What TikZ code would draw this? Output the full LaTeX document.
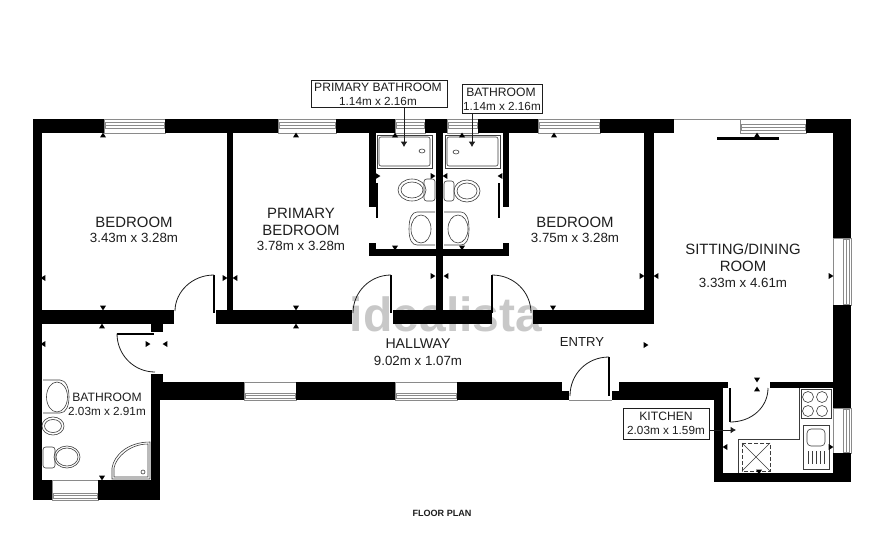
\documentclass[tikz,border=0pt]{standalone}
\usepackage{fontspec}
\setmainfont{Liberation Sans}
\usetikzlibrary{arrows.meta}
\definecolor{ink}{HTML}{1E1E1E}
\definecolor{fixink}{HTML}{3C3C3C}
\definecolor{wingray}{HTML}{8A8A8A}
\definecolor{wmgray}{HTML}{C8C8C8}
\newcommand\tu[2]{\fill (#1-3,#2+2.4)--(#1+3,#2+2.4)--(#1,#2-2.4)--cycle;}
\newcommand\td[2]{\fill (#1-3,#2-2.4)--(#1+3,#2-2.4)--(#1,#2+2.4)--cycle;}
\newcommand\tl[2]{\fill (#1+2.4,#2-3)--(#1+2.4,#2+3)--(#1-2.4,#2)--cycle;}
\newcommand\tr[2]{\fill (#1-2.4,#2-3)--(#1-2.4,#2+3)--(#1+2.4,#2)--cycle;}
% horizontal window: x1 x2 y1 y2 band-top band-bottom
\newcommand\hwin[6]{\draw[winline] (#1,#3) rectangle (#2,#4);
  \draw[winband] (#1+1,#5) rectangle (#2-1,#6);
  \draw[winband] (#1+1,#5/2+#6/2) -- (#2-1,#5/2+#6/2);}
\newcommand\vwin[6]{\draw[winline] (#3,#1) rectangle (#4,#2);
  \draw[winband] (#5,#1+1) rectangle (#6,#2-1);
  \draw[winband] (#5/2+#6/2,#1+1) -- (#5/2+#6/2,#2-1);}
\tikzset{
  wall/.style={fill=black,draw=none},
  winline/.style={draw=wingray,line width=.5pt},
  winband/.style={draw=wingray,line width=.6pt},
  fix/.style={draw=fixink,line width=.45pt},
  leaf/.style={draw=black,line width=1.5pt},
  swing/.style={draw=ink,line width=.6pt},
  room/.style={text=ink,font=\fontsize{11.2pt}{13pt}\selectfont,inner sep=0pt},
  dim/.style={text=ink,font=\fontsize{10pt}{12pt}\selectfont,inner sep=0pt},
  sroom/.style={text=ink,font=\fontsize{9.1pt}{11pt}\selectfont,inner sep=0pt},
  sdim/.style={text=ink,font=\fontsize{8.8pt}{11pt}\selectfont,inner sep=0pt},
  labelbox/.style={draw=ink,line width=.6pt,fill=white,inner sep=0pt},
  pointer/.style={draw=ink,line width=.6pt,-{Latex[length=4pt,width=5pt]}},
}
\begin{document}
\begin{tikzpicture}[x=.75pt,y=-.75pt]
\useasboundingbox (0,0) rectangle (884,550);
\fill[white] (0,0) rectangle (884,550);
% watermark, behind the walls
\node[text=wmgray,inner sep=0pt,anchor=base] (wm) at (446,331) {\bfseries\fontsize{36pt}{40pt}\selectfont idealista};
% windows
\hwin{104}{165}{119}{133}{122}{128}
\hwin{278}{336}{119}{133}{122}{128}
\hwin{395}{425}{119}{133}{122}{128}
\hwin{447}{478}{119}{133}{122}{128}
\hwin{538}{600}{119}{133}{122}{128}
\hwin{740}{806}{119}{133}{124}{130}
\hwin{244}{296}{382}{400}{393}{398}
\hwin{395}{457}{382}{400}{393}{398}
\hwin{52}{98}{480}{500}{493}{498}
\vwin{238}{305}{833}{851}{843}{849}
\vwin{408}{453}{833}{851}{843}{849}
% thin outline across the sliding door opening and entry door
\draw[winline] (674,119) -- (740,119);
\draw[winline] (569,400) -- (612,400);
% walls
\fill[wall] (33,119) rectangle (104,133);
\fill[wall] (165,119) rectangle (278,133);
\fill[wall] (336,119) rectangle (395,133);
\fill[wall] (425,119) rectangle (447,133);
\fill[wall] (478,119) rectangle (538,133);
\fill[wall] (600,119) rectangle (674,133);
\fill[wall] (806,119) rectangle (851,133);
\fill[wall] (33,119) rectangle (42,500);
\fill[wall] (33,480) rectangle (52,500);
\fill[wall] (98,480) rectangle (160,500);
\fill[wall] (151,382) rectangle (160,500);
\fill[wall] (151,374) rectangle (163,382);
\fill[wall] (42,310) rectangle (174,324);
\fill[wall] (151,324) rectangle (163,332);
\fill[wall] (216,310) rectangle (352,324);
\fill[wall] (393,310) rectangle (492,324);
\fill[wall] (533,310) rectangle (654,324);
\fill[wall] (227,133) rectangle (233,310);
\fill[wall] (436,133) rectangle (443,310);
\fill[wall] (644,133) rectangle (654,324);
\fill[wall] (369,133) rectangle (376,207);
\fill[wall] (503,133) rectangle (509,207);
\fill[wall] (369,249) rectangle (509,256);
\fill[wall] (369,243) rectangle (376,256);
\fill[wall] (503,243) rectangle (509,256);
\fill[wall] (833,119) rectangle (851,238);
\fill[wall] (833,305) rectangle (851,408);
\fill[wall] (833,453) rectangle (851,482);
\fill[wall] (160,382) rectangle (244,400);
\fill[wall] (296,382) rectangle (395,400);
\fill[wall] (457,382) rectangle (562,400);
\fill[wall] (562,391) rectangle (569,400);
\fill[wall] (612,391) rectangle (619,400);
\fill[wall] (619,382) rectangle (714,400);
\fill[wall] (714,382) rectangle (728,388);
\fill[wall] (714,388) rectangle (723,482);
\fill[wall] (714,473) rectangle (851,482);
\fill[wall] (770,382) rectangle (833,388);
% sliding door bar
\fill[wall] (717,136.5) rectangle (779,139.5);
% bathroom sliding leaves
\draw[leaf] (377,183) -- (377,218);
\draw[leaf] (499,183) -- (499,218);
% doors
\draw[leaf] (214,275) -- (214,313);
\draw[swing] (214,275) .. controls (192,275) and (175,292) .. (175,311);
\draw[leaf] (391,275) -- (391,313);
\draw[swing] (391,275) .. controls (370,275) and (353,292) .. (353,313);
\draw[leaf] (492,275) -- (492,313);
\draw[swing] (492,275) .. controls (514,275) and (531,292) .. (531,313);
\draw[leaf] (609,357) -- (609,396);
\draw[swing] (609,357) .. controls (587,357) and (570,374) .. (570,396);
\draw[leaf] (730,388) -- (730,422);
\draw[swing] (730,422) .. controls (752,422) and (768,407) .. (768,388);
\draw[leaf] (117,333.5) -- (154,333.5);
\draw[swing] (117,333.5) .. controls (117,355) and (134,372) .. (155,372);
% primary bathroom fixtures
\draw[fix] (377,135) rectangle (432,168);
\draw[fix,rounded corners=1.5pt] (379,137) rectangle (430,166);
\draw[fix] (422,151) ellipse (3 and 2);
\draw[fix,rounded corners=2pt] (424,179) rectangle (435,201);
\draw[fix] (412,190) ellipse (14 and 11);
\draw[fix] (412,190) ellipse (11 and 8);
\draw[fix] (435,212) -- (417,212) .. controls (412,212) and (409,218) .. (409,229) .. controls (409,240) and (412,245) .. (417,245) -- (435,245);
\draw[fix] (421,229) ellipse (10 and 14);
% bathroom fixtures
\draw[fix] (445,135) rectangle (500,168);
\draw[fix,rounded corners=1.5pt] (447,137) rectangle (498,166);
\draw[fix] (456,152) ellipse (3 and 2);
\draw[fix,rounded corners=2pt] (444,181) rectangle (454,201);
\draw[fix] (467,191) ellipse (13 and 11);
\draw[fix] (467,191) ellipse (10 and 8);
\draw[fix] (444,212) -- (461,212) .. controls (466,212) and (469,218) .. (469,229) .. controls (469,240) and (466,245) .. (461,245) -- (444,245);
\draw[fix] (458,229) ellipse (10 and 14);
% lower bathroom fixtures
\draw[fix] (43,380) -- (60,380) .. controls (66,380) and (69,388) .. (69,397) .. controls (69,406) and (66,413) .. (60,413) -- (43,413);
\draw[fix] (57,397) ellipse (10.5 and 15);
\draw[fix] (53,426) ellipse (11 and 9);
\draw[fix] (53,426) ellipse (8.5 and 6.5);
\draw[fix,rounded corners=2pt] (43,447) rectangle (55,468);
\draw[fix] (67,457) ellipse (13 and 11);
\draw[fix] (67,457) ellipse (11 and 9);
\draw[fix] (112,479) -- (112,468) .. controls (114,455) and (128,442) .. (150,442) -- (150,479) -- cycle;
\draw[fix] (114,477) -- (114,468) .. controls (116,457) and (130,444) .. (148,444) -- (148,477) -- cycle;
\draw[fix] (143,472) circle (2);
% kitchen
\draw[fix] (799,388) -- (799,439) -- (738,439) -- (738,473);
\draw[fix] (801,389) rectangle (831,418);
\foreach \cx/\cy in {808/397,822/397,808/411,822/411} \draw[fix] (\cx,\cy) circle (5.5);
\draw[fix] (803,425) rectangle (829,469);
\draw[fix,rounded corners=3pt] (807,429) rectangle (825,446);
\foreach \sx in {808,812,816,820,824} \draw[fix] (\sx,451) -- (\sx,464);
\draw[fix,dash pattern=on 3pt off 1.5pt,line width=.7pt] (742,443) rectangle (770,471);
\draw[fix] (742,443) -- (770,471) (770,443) -- (742,471);
% dimension ticks
\tu{103}{135}\tu{296}{135}\tu{395}{135}\tu{462}{135}\tu{554}{135}\tu{757}{135}
\td{103}{308}\td{296}{308}\td{553}{308}
\tu{102}{326}\tu{296}{326}
\td{102}{478}
\td{395}{248}\td{462}{248}
\tl{43}{278}\tr{225}{278}\tl{235}{278}
\tl{43}{344}\tr{148}{344}\tl{165}{344}
\tr{378}{176}\tr{433}{176}\tl{445}{176}\tl{500}{176}
\tr{433}{276}\tl{446}{276}\tr{642}{276}\tl{656}{276}\tr{831}{276}
\tr{646}{345}\td{757}{380}\tu{757}{389}\tl{725}{447}\tr{831}{447}\td{759}{472}
% room labels
\node[room] (bed1) at (134,222) {BEDROOM};
\node[dim] (bed1d) at (134,238) {3.43m x 3.28m};
\node[room] (bed2a) at (301,213) {PRIMARY};
\node[room] (bed2b) at (301,230) {BEDROOM};
\node[dim] (bed2d) at (301,246) {3.78m x 3.28m};
\node[room] (bed3) at (575,222) {BEDROOM};
\node[dim] (bed3d) at (575,238) {3.75m x 3.28m};
\node[room] (sit1) at (743,249) {SITTING/DINING};
\node[room] (sit2) at (743,266) {ROOM};
\node[dim] (sitd) at (743,283) {3.33m x 4.61m};
\node[room,font=\fontsize{10.6pt}{13pt}\selectfont] (hall) at (418,344) {HALLWAY};
\node[dim] (halld) at (418,361) {9.02m x 1.07m};
\node[room,font=\fontsize{9.8pt}{12pt}\selectfont] (entry) at (582,342) {ENTRY};
\node[sroom] (bath) at (107,397) {BATHROOM};
\node[sdim] (bathd) at (107,411) {2.03m x 2.91m};
% callouts
\node[labelbox,minimum width=102pt,minimum height=20.25pt] (pb) at (379,93.5) {};
\node[sroom] (pbt) at (378,87) {PRIMARY BATHROOM};
\node[sdim] (pbd) at (378,101) {1.14m x 2.16m};
\node[labelbox,minimum width=60pt,minimum height=21.75pt] (bb) at (502,98.5) {};
\node[sroom] (bbt) at (501,92) {BATHROOM};
\node[sdim] (bbd) at (502,106) {1.14m x 2.16m};
\node[labelbox,minimum width=64.5pt,minimum height=23.25pt] (kb) at (666,423.5) {};
\node[sroom] (kbt) at (666,416) {KITCHEN};
\node[sdim] (kbd) at (666,430) {2.03m x 1.59m};
\coordinate (pbtip) at (404,147);
\coordinate (bbtip) at (472,147);
\coordinate (kbtip) at (736,430);
\draw[pointer] (pb.south -| pbtip) -- (pbtip);
\draw[pointer] (bb.south -| bbtip) -- (bbtip);
\draw[pointer] (kb.east |- kbtip) -- (kbtip);
\node[text=ink,inner sep=0pt,font=\bfseries\fontsize{6.8pt}{8pt}\selectfont] (fp) at (442,513) {FLOOR PLAN};
\end{tikzpicture}
\end{document}
